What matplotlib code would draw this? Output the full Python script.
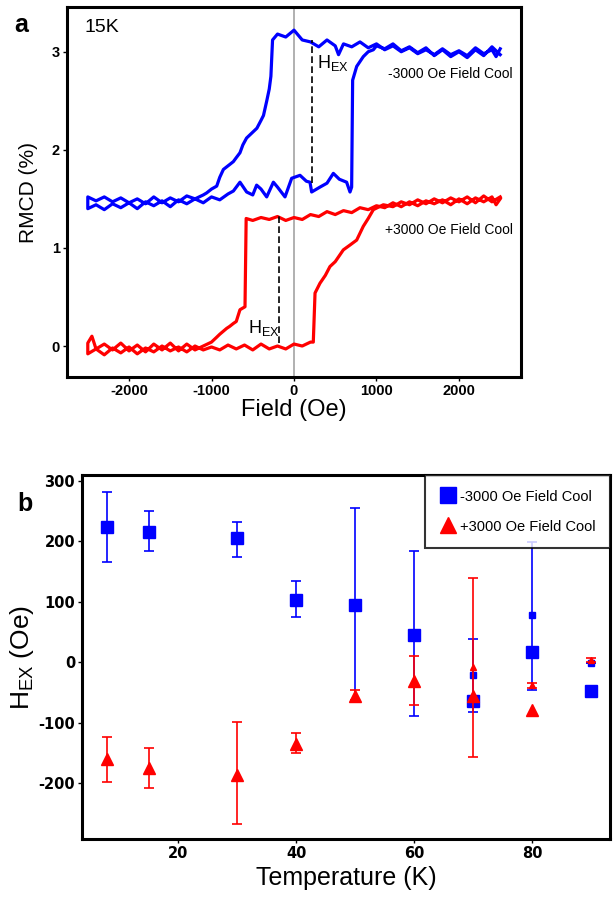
import numpy as np
import matplotlib
matplotlib.use('Agg')
import matplotlib.pyplot as plt

plt.rcParams['font.family'] = ['Liberation Sans', 'DejaVu Sans']
plt.rcParams['mathtext.fontset'] = 'custom'
plt.rcParams['mathtext.rm'] = 'Liberation Sans'
plt.rcParams['mathtext.it'] = 'Liberation Sans'
plt.rcParams['axes.unicode_minus'] = False

# ---- panel a: RMCD loops at 15K ----
# -3000 Oe field cool, sweep down from +2500
blue_down_field = [2500, 2450, 2400, 2300, 2200, 2100, 2000, 1900, 1800, 1700, 1600, 1500,
                   1400, 1300, 1200, 1100, 1000, 900, 800, 700, 600, 540, 500, 400, 300, 200,
                   100, 0, -100, -200, -260, -280, -300, -330, -370, -400, -450, -500, -575,
                   -620, -655, -700, -735, -780, -856, -900, -937, -1000, -1060, -1100, -1200,
                   -1300, -1400, -1500, -1600, -1700, -1800, -1900, -2000, -2100, -2200, -2300,
                   -2400, -2500]
blue_down_rmcd = [3.03, 2.95, 3.02, 2.98, 3.04, 2.96, 3.01, 2.97, 3.03, 2.97, 3.02, 2.98,
                  3.04, 3.00, 3.06, 3.02, 3.08, 3.04, 3.10, 3.05, 3.08, 2.97, 3.06, 3.12, 3.05, 3.10,
                  3.12, 3.22, 3.15, 3.18, 3.12, 2.75, 2.62, 2.50, 2.35, 2.30, 2.22, 2.18, 2.12,
                  2.05, 1.97, 1.92, 1.88, 1.85, 1.80, 1.72, 1.63, 1.60, 1.56, 1.54, 1.50,
                  1.53, 1.47, 1.51, 1.46, 1.52, 1.45, 1.50, 1.46, 1.51, 1.47, 1.52,
                  1.48, 1.52]
# sweep up from -2500
blue_up_field = [-2500, -2400, -2300, -2200, -2100, -2000, -1900, -1800, -1700, -1600, -1500,
                 -1400, -1300, -1200, -1100, -1000, -900, -800, -735, -655, -574, -500, -453,
                 -400, -331, -250, -200, -109, -28, 73, 150, 194, 214, 315, 400, 477, 550, 638,
                 679, 699, 711, 760, 840, 900, 962, 1000, 1100, 1200, 1300, 1400, 1500, 1600,
                 1700, 1800, 1900, 2000, 2100, 2200, 2300, 2400, 2500]
blue_up_rmcd = [1.40, 1.44, 1.39, 1.45, 1.41, 1.46, 1.40, 1.47, 1.43, 1.48, 1.42,
                1.49, 1.45, 1.50, 1.46, 1.52, 1.49, 1.55, 1.58, 1.67, 1.57, 1.54, 1.64,
                1.60, 1.52, 1.67, 1.62, 1.52, 1.71, 1.74, 1.68, 1.67, 1.57, 1.62, 1.66, 1.76, 1.70, 1.67,
                1.57, 1.62, 2.71, 2.85, 2.95, 3.00, 3.02, 3.06, 3.03, 3.08, 3.01, 3.05, 2.99, 3.04,
                2.96, 3.02, 2.95, 3.00, 2.94, 3.02, 2.96, 3.05, 2.97]

# +3000 Oe field cool
red_down_field = [2500, 2450, 2400, 2300, 2200, 2100, 2000, 1900, 1800, 1700, 1600, 1500,
                  1400, 1300, 1200, 1100, 1000, 900, 800, 700, 600, 500, 400, 300, 200, 100,
                  0, -100, -200, -300, -400, -500, -580, -594, -655, -700, -735, -780, -816,
                  -900, -937, -1000, -1100, -1200, -1300, -1400, -1500, -1600, -1700, -1800,
                  -1900, -2000, -2100, -2200, -2300, -2400, -2450, -2500]
red_down_rmcd = [1.50, 1.44, 1.52, 1.47, 1.51, 1.45, 1.50, 1.44, 1.49, 1.45, 1.48, 1.43,
                 1.47, 1.42, 1.46, 1.41, 1.43, 1.39, 1.41, 1.36, 1.38, 1.34, 1.37, 1.32, 1.34, 1.29,
                 1.31, 1.28, 1.32, 1.29, 1.31, 1.28, 1.30, 0.40, 0.37, 0.25, 0.23, 0.20, 0.18,
                 0.12, 0.09, 0.04, 0.00, -0.04, 0.02, -0.05, 0.03, -0.04, 0.02, -0.06,
                 0.01, -0.05, 0.03, -0.04, 0.02, -0.03, 0.10, 0.03]
red_up_field = [-2500, -2400, -2300, -2200, -2100, -2000, -1900, -1800, -1700, -1600, -1500,
                -1400, -1300, -1200, -1100, -1000, -900, -800, -700, -600, -500, -400, -300,
                -200, -100, 0, 100, 200, 234, 255, 315, 380, 436, 500, 598, 680, 760, 840, 900,
                962, 1083, 1200, 1300, 1400, 1500, 1600, 1700, 1800, 1900, 2000, 2100, 2200,
                2300, 2400, 2500]
red_up_rmcd = [-0.08, -0.03, -0.09, -0.02, -0.07, -0.01, -0.08, -0.02, -0.06, 0.00, -0.05,
               -0.01, -0.06, 0.00, -0.04, -0.01, -0.04, 0.01, -0.03, 0.01, -0.04, 0.02, -0.03,
               0.00, -0.03, 0.02, 0.00, 0.04, 0.04, 0.54, 0.64, 0.72, 0.81, 0.86, 0.98, 1.03, 1.08, 1.22, 1.30,
               1.39, 1.44, 1.42, 1.47, 1.44, 1.49, 1.45, 1.50, 1.46, 1.51, 1.47, 1.52, 1.46,
               1.53, 1.47, 1.52]

hex_blue = 218    # Oe, dashed line
hex_red = -178

# ---- panel b: exchange field vs temperature ----
T_neg = [8, 15, 30, 40, 50, 60]
H_neg = [224, 216, 205, 104, 95, 46]
H_neg_up = [58, 34, 27, 31, 160, 138]
H_neg_dn = [58, 32, 30, 29, 160, 134]
T_neg2 = [70, 80, 90]
H_neg2 = [-64, 17, -47]
# small markers (with error bars)
T_neg_s = [70, 80, 90]
H_neg_s = [-21, 78, -1]
H_neg_s_up = [60, 121, 0]
H_neg_s_dn = [61, 123, 0]

T_pos = [8, 15, 30, 40, 50, 60]
H_pos = [-160, -174, -186, -135, -55, -31]
H_pos_up = [37, 33, 88, 18, 9, 42]
H_pos_dn = [38, 33, 82, 15, 8, 39]
T_pos2 = [70, 80]
H_pos2 = [-55, -79]
T_pos_s = [70, 80, 90]
H_pos_s = [-8, -38, 4]
H_pos_s_up = [148, 4, 3]
H_pos_s_dn = [148, 5, 3]

BLUE = '#0000ff'
RED = '#ff0000'

fig = plt.figure(figsize=(6.13, 8.97), dpi=100)

# ---------------- panel a ----------------
ax = fig.add_axes([0.1093, 0.5797, 0.7406, 0.4125])
ax.axvline(0, color='#aaaaaa', lw=1.3, zorder=1)
ax.plot(blue_down_field + blue_up_field, blue_down_rmcd + blue_up_rmcd, color=BLUE, lw=2.3, zorder=3)
ax.plot(red_down_field + red_up_field, red_down_rmcd + red_up_rmcd, color=RED, lw=2.3, zorder=3)
ax.plot([hex_blue, hex_blue], [1.66, 3.12], 'k--', lw=1.2, dashes=(4, 2), zorder=4)
ax.plot([hex_red, hex_red], [0.03, 1.35], 'k--', lw=1.2, dashes=(4, 2), zorder=4)

ax.text(-2545, 3.25, '15K', fontsize=14, va='center', ha='left')
ax.text(279, 2.88, r'H$_\mathrm{EX}$', fontsize=13, va='center', ha='left')
ax.text(-558, 0.18, r'H$_\mathrm{EX}$', fontsize=13, va='center', ha='left')
ax.text(1139, 2.77, '-3000 Oe Field Cool', fontsize=10, va='center', ha='left')
ax.text(1103, 1.18, '+3000 Oe Field Cool', fontsize=10, va='center', ha='left')

ax.set_xlim(-2752, 2752)
ax.set_ylim(-0.316, 3.456)
ax.set_xticks([-2000, -1000, 0, 1000, 2000])
ax.set_yticks([0, 1, 2, 3])
ax.tick_params(direction='out', length=3, width=1, pad=2, labelsize=10.5)
for lab in ax.get_xticklabels() + ax.get_yticklabels():
    lab.set_fontweight('bold')
for s in ax.spines.values():
    s.set_linewidth(2.2)
ax.set_xlabel('Field (Oe)', fontsize=17, labelpad=1)
ax.set_ylabel('RMCD (%)', fontsize=15, labelpad=10)

# ---------------- panel b ----------------
bx = fig.add_axes([0.1338, 0.0647, 0.8618, 0.4058])
ekw = dict(fmt='none', elinewidth=1.2, capsize=3.5, capthick=1.2)
bx.errorbar(T_neg, H_neg, yerr=[H_neg_dn, H_neg_up], ecolor=BLUE, zorder=2, **ekw)
bx.errorbar(T_neg_s, H_neg_s, yerr=[H_neg_s_dn, H_neg_s_up], ecolor=BLUE, zorder=2, **ekw)
bx.plot(T_neg + T_neg2, H_neg + H_neg2, 's', color=BLUE, ms=8, ls='none', zorder=3,
        label='-3000 Oe Field Cool')
bx.plot(T_neg_s, H_neg_s, 's', color=BLUE, ms=4.5, ls='none', zorder=3)

bx.errorbar(T_pos, H_pos, yerr=[H_pos_dn, H_pos_up], ecolor=RED, zorder=4, **ekw)
bx.errorbar(T_pos_s, H_pos_s, yerr=[H_pos_s_dn, H_pos_s_up], ecolor=RED, zorder=4, **ekw)
bx.plot(T_pos + T_pos2, H_pos + H_pos2, '^', color=RED, ms=8.5, ls='none', zorder=5,
        label='+3000 Oe Field Cool')
bx.plot(T_pos_s, H_pos_s, '^', color=RED, ms=5, ls='none', zorder=5)

bx.set_xlim(3.7, 93.2)
bx.set_ylim(-292, 310)
bx.set_xticks([20, 40, 60, 80])
bx.set_yticks([-200, -100, 0, 100, 200, 300])
bx.tick_params(direction='out', length=3, width=1, pad=2, labelsize=10.5)
for lab in bx.get_xticklabels() + bx.get_yticklabels():
    lab.set_fontweight('bold')
    lab.set_family('DejaVu Sans')
for s in bx.spines.values():
    s.set_linewidth(2.2)
bx.set_xlabel('Temperature (K)', fontsize=18, labelpad=4)
bx.set_ylabel(r'H$_\mathrm{EX}$ (Oe)', fontsize=19, labelpad=2)

leg = bx.legend(loc='upper right', fontsize=10.5, frameon=True, fancybox=False,
                borderaxespad=0, handletextpad=0.2, labelspacing=1.1, markerscale=1.4,
                handlelength=1.2, borderpad=1.0)
leg.get_frame().set_edgecolor('black')
leg.get_frame().set_linewidth(1.5)

fig.text(0.023, 0.985, 'a', fontsize=18, fontweight='bold', va='top', ha='left')
fig.text(0.028, 0.452, 'b', fontsize=18, fontweight='bold', va='top', ha='left')

fig.savefig('out.png', dpi=100)
